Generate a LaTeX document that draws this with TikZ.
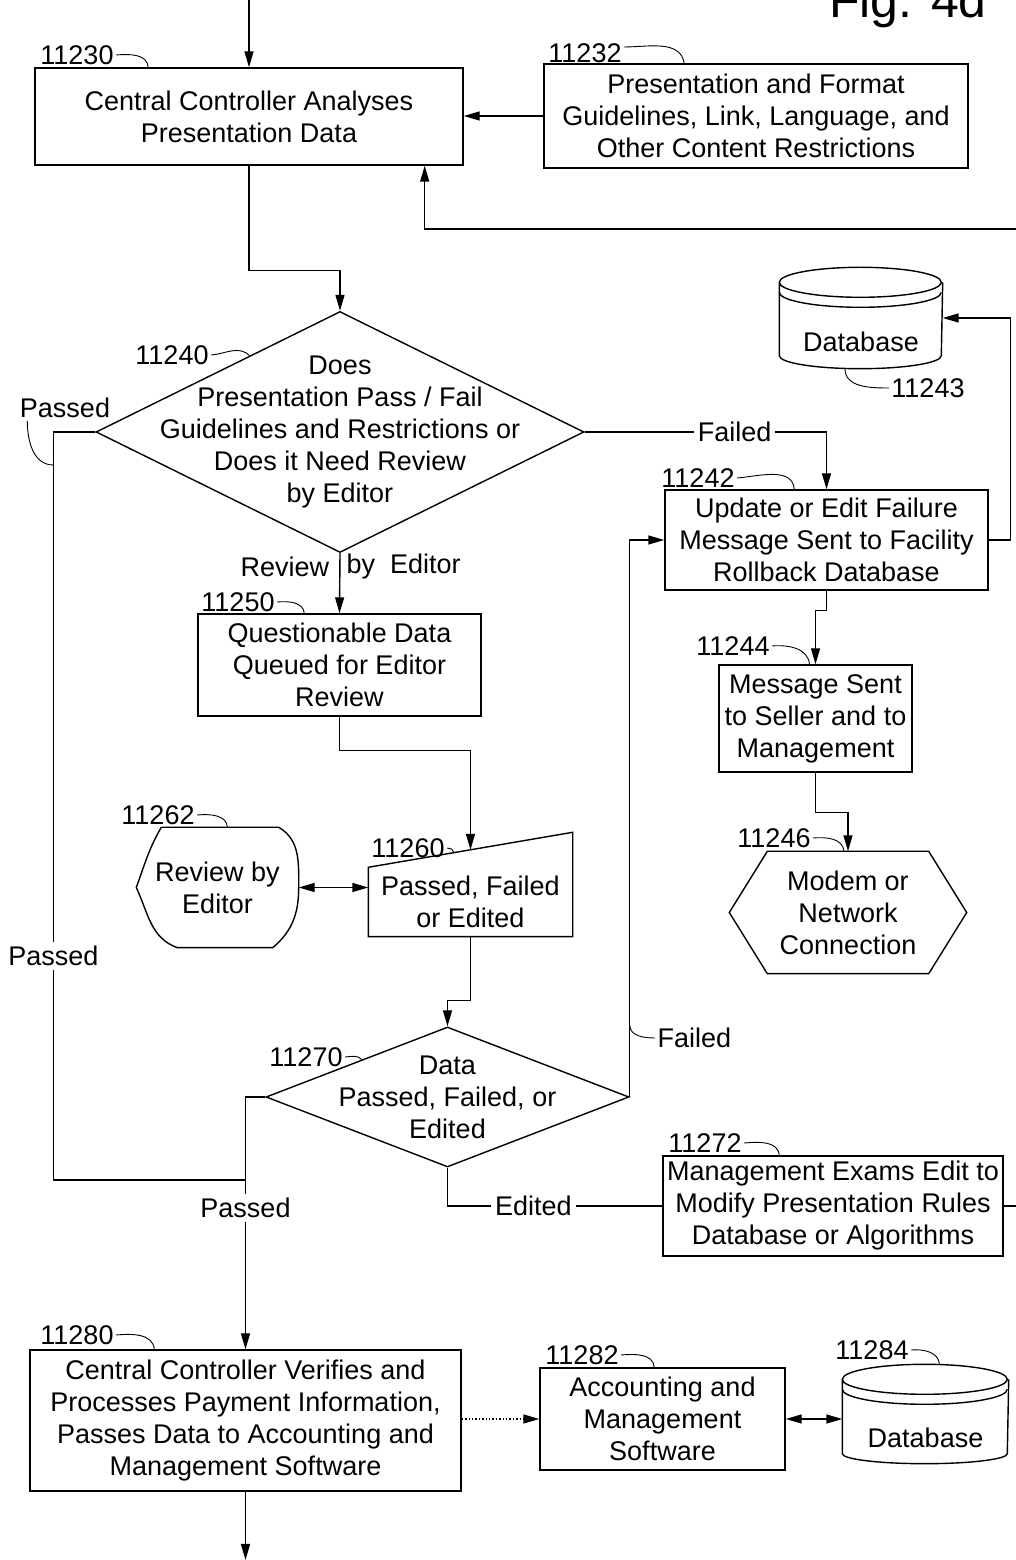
\documentclass[tikz,border=0pt]{standalone}
\usepackage{fontspec}
\setmainfont{Liberation Sans}
\usetikzlibrary{arrows.meta,calc,shapes.geometric}
\newcommand\dfont{\fontsize{13.5}{16}\selectfont}

\begin{document}
\begin{tikzpicture}[x=0.5pt,y=0.5pt,font=\dfont,line width=0.7pt,
  >={Triangle[length=8pt,width=4.5pt]},
  box/.style={draw,align=center,inner sep=0pt},
  area/.style={align=center,inner sep=0pt},
  refnum/.style={inner sep=1pt},
  leader/.style={line width=0.45pt},
  cut/.style={fill=white,inner sep=2pt}]
  \useasboundingbox (0,0) rectangle (1016,1560);

  \node[anchor=base,font=\fontsize{25}{30}\selectfont] (fig) at (908,1542) {Fig. 4d};

  \node[box,minimum width=214pt,minimum height=48.5pt] (n11230) at (249,1443.5) {Central Controller Analyses\\Presentation Data};
  \node[box,minimum width=212pt,minimum height=52pt] (n11232) at (756,1444) {Presentation and Format\\Guidelines, Link, Language, and\\Other Content Restrictions};
  \node[area,draw,diamond,minimum width=244pt,minimum height=120.5pt,
    label={[align=center]center:{Does\\Presentation Pass / Fail\\Guidelines and Restrictions or\\Does it Need Review\\by Editor}}] (d11240) at (340,1128) {};
  \node[box,minimum width=161.5pt,minimum height=50pt] (n11242) at (826.5,1020) {Update or Edit Failure\\Message Sent to Facility\\Rollback Database};
  \node[area,minimum width=81pt,minimum height=50pt,label={[yshift=-12pt]center:Database}] (c11243) at (861,1242) {};
  \node[box,minimum width=96.5pt,minimum height=53.5pt] (n11244) at (815.5,841.5) {Message Sent\\to Seller and to\\Management};
  \node[area,minimum width=118pt,minimum height=60.5pt] (h11246) at (848,647.5) {Modem or\\Network\\Connection};
  \node[box,minimum width=141.5pt,minimum height=51pt] (n11250) at (339.5,895) {Questionable Data\\Queued for Editor\\Review};
  \node[area,minimum width=101.5pt,minimum height=34pt] (m11260) at (470.5,658) {Passed, Failed\\or Edited};
  \node[area,minimum width=80.5pt,minimum height=59.5pt] (r11262) at (217.5,672.5) {Review by\\Editor};
  \node[area,draw,diamond,minimum width=181.5pt,minimum height=70pt,
    label={[align=center]center:{Data\\Passed, Failed, or\\Edited}}] (d11270) at (447.5,463) {};
  \node[box,minimum width=170pt,minimum height=50pt] (n11272) at (833,354) {Management Exams Edit to\\Modify Presentation Rules\\Database or Algorithms};
  \node[box,minimum width=215.5pt,minimum height=70.5pt] (n11280) at (245.5,139.5) {Central Controller Verifies and\\Processes Payment Information,\\Passes Data to Accounting and\\Management Software};
  \node[box,minimum width=122.5pt,minimum height=51pt] (n11282) at (662.5,141) {Accounting and\\Management\\Software};
  \node[area,minimum width=82.5pt,minimum height=49pt,label={[yshift=-12pt]center:Database}] (c11284) at (925.5,146) {};

  \draw ([yshift=-7.5pt]c11243.north west) arc[start angle=180,end angle=360,x radius=40.5pt,y radius=7.5pt]
    arc[start angle=0,end angle=180,x radius=40.5pt,y radius=7.5pt] -- ([yshift=6.5pt]c11243.south west)
    arc[start angle=180,end angle=360,x radius=40.5pt,y radius=6.5pt] -- ([yshift=-7.5pt]c11243.north east);
  \draw ([yshift=-12.5pt]c11243.north west) arc[start angle=180,end angle=360,x radius=40.5pt,y radius=7.5pt];
  \draw ([yshift=-7.5pt]c11284.north west) arc[start angle=180,end angle=360,x radius=41.25pt,y radius=7.5pt]
    arc[start angle=0,end angle=180,x radius=41.25pt,y radius=7.5pt] -- ([yshift=5pt]c11284.south west)
    arc[start angle=180,end angle=360,x radius=41.25pt,y radius=5pt] -- ([yshift=-7.5pt]c11284.north east);
  \draw ([yshift=-12.5pt]c11284.north west) arc[start angle=180,end angle=360,x radius=41.25pt,y radius=7.5pt];
  \draw (h11246.west) -- ([xshift=19pt]h11246.north west) -- ([xshift=-19pt]h11246.north east) -- (h11246.east)
    -- ([xshift=-19pt]h11246.south east) -- ([xshift=19pt]h11246.south west) -- cycle;
  \draw (m11260.south west) -- (m11260.north west) -- ([yshift=17.5pt]m11260.north east) -- (m11260.south east) -- cycle;
  \draw ([xshift=12.5pt]r11262.north west) -- ([xshift=-10pt]r11262.north east) to[out=-30,in=90] (r11262.east)
    to[out=-90,in=40] ([xshift=-13pt]r11262.south east) -- ([xshift=20.5pt]r11262.south west)
    to[out=160,in=-65] (r11262.west) to[out=70,in=-120] ([xshift=12.5pt]r11262.north west);

  \coordinate (src) at (249,1560);
  \coordinate (dst) at (245.5,0);
  \coordinate (join) at (245.5,380);

  \draw[->] (src) -- (n11230.north);
  \draw[->] (n11232.west) -- (n11232.west -| n11230.east);
  \draw[->] (n11272.east) -| (1030,1331) -| ([xshift=-19.5pt]n11230.south east);
  \draw[->] (n11230.south) -- ++(0,-105) -| (d11240.north);
  \draw[->] (d11240.east) -| (n11242.north) node[cut,pos=0.31] {Failed};
  \draw[->] (n11242.east) -- ++(22,0) |- (c11243.east);
  \draw[->] (n11242.south) -- ++(0,-20) -| (n11244.north);
  \draw[->] (n11244.south) -- ++(0,-40) -| (h11246.north);
  \draw[->] (d11240.south) -- (n11250.north) node[pos=0.23,left,inner sep=5pt] {Review}
    node[pos=0.23,right,inner sep=3pt] {by\ \ Editor};
  \draw[->] (n11250.south) -- ++(0,-34) -| ([yshift=8.75pt]m11260.north);
  \draw[<->] (r11262.east) -- (r11262.east -| m11260.west);
  \draw[->] (m11260.south) -- ++(0,-64) -| (d11270.north);
  \draw (d11240.west) -- ++(-42,0) coordinate (pl) |- (join) node[cut,pos=0.35] {Passed};
  \draw[->] (d11270.west) -| (n11280.north) node[cut,pos=0.72] {Passed};
  \draw[->] (d11270.east) |- (n11242.west);
  \draw (d11270.south) |- (n11272.west) node[cut,pos=0.70] {Edited};
  \draw[->] (n11280.south) -- (dst);
  \draw[->,densely dotted] (n11280.east |- n11282.west) -- (n11282.west);
  \draw[<->] (n11282.east) -- (n11282.east -| c11284.west);

  \node[refnum] (lpass) at (65,1152) {Passed};
  \draw[leader] ([xshift=5pt]lpass.south west) to[out=-90,in=180] ([yshift=-16.5pt]pl);
  \node[refnum,anchor=west] (lfail) at (655,522) {Failed};
  \draw[leader] ([yshift=36pt]d11270.east) to[out=-90,in=180] (lfail.west);

  \node[refnum] (l11230) at (77,1505) {11230};
  \draw[leader] (l11230.east) to[out=5,in=95] ([xshift=57pt]n11230.north west);
  \node[refnum] (l11232) at (585,1507) {11232};
  \draw[leader] ([yshift=3pt]l11232.east) to[out=0,in=100] ([xshift=70.5pt]n11232.north west);
  \node[refnum] (l11240) at (172,1205) {11240};
  \draw[leader] (l11240.east) to[out=5,in=135] ($(d11240.west)!0.63!(d11240.north)$);
  \node[refnum] (l11242) at (698,1082) {11242};
  \draw[leader] (l11242.east) to[out=5,in=95] ([xshift=65pt]n11242.north west);
  \node[refnum] (l11243) at (928,1172) {11243};
  \draw[leader] ([xshift=-8pt]c11243.south) to[out=-90,in=180] (l11243.west);
  \node[refnum] (l11244) at (733,914) {11244};
  \draw[leader] (l11244.east) to[out=5,in=95] ([xshift=-3pt]n11244.north);
  \node[refnum] (l11246) at (774,722) {11246};
  \draw[leader] (l11246.east) to[out=5,in=95] ([xshift=-2pt]h11246.north);
  \node[refnum] (l11250) at (238,958) {11250};
  \draw[leader] (l11250.east) to[out=5,in=95] ([xshift=53.5pt]n11250.north west);
  \node[refnum] (l11260) at (408,712) {11260};
  \draw[leader] (l11260.east) to[out=5,in=110] ($(m11260.north west)!0.42!([yshift=17.5pt]m11260.north east)$);
  \node[refnum] (l11262) at (158,745) {11262};
  \draw[leader] (l11262.east) to[out=5,in=95] ([xshift=5pt]r11262.north);
  \node[refnum] (l11270) at (306,503) {11270};
  \draw[leader] (l11270.east) to[out=5,in=135] ($(d11270.west)!0.53!(d11270.north)$);
  \node[refnum] (l11272) at (705,417) {11272};
  \draw[leader] (l11272.east) to[out=5,in=95] ([xshift=58.5pt]n11272.north west);
  \node[refnum] (l11280) at (77,225) {11280};
  \draw[leader] (l11280.east) to[out=5,in=95] ([xshift=62.5pt]n11280.north west);
  \node[refnum] (l11282) at (582,205) {11282};
  \draw[leader] (l11282.east) to[out=5,in=95] ([xshift=57.5pt]n11282.north west);
  \node[refnum] (l11284) at (872,210) {11284};
  \draw[leader] (l11284.east) to[out=5,in=95] ([xshift=7pt]c11284.north);
\end{tikzpicture}
\end{document}
